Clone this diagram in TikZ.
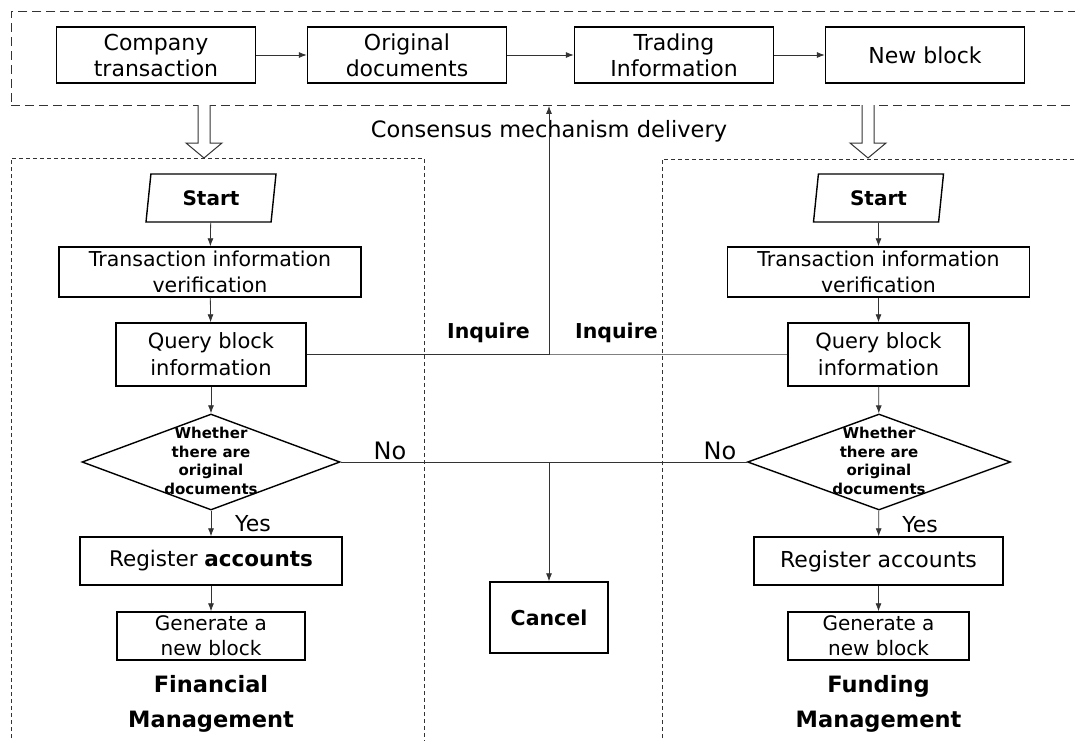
\documentclass[tikz,border=0pt]{standalone}
\usepackage{fontspec}
\setmainfont{DejaVu Sans}
\usetikzlibrary{arrows.meta,shapes.geometric,calc}
\begin{document}
\begin{tikzpicture}[x=1pt,y=-1pt,
  box/.style={draw=black, line width=1.4pt, inner sep=0pt, align=center, font=\fontsize{21}{27}\selectfont},
  topbox/.style={box, minimum width=199pt, minimum height=56pt, font=\fontsize{22}{26}\selectfont},
  ln/.style={draw=black!80, line width=0.8pt},
  lnlight/.style={draw=black!50, line width=0.8pt},
  arr/.style={ln, -{Latex[length=8pt,width=6pt]}},
  lbl/.style={inner sep=0pt, font=\fontsize{21}{26}\selectfont},
  dashbig/.style={draw=black!80, line width=0.9pt, dash pattern=on 9pt off 5pt},
  dashsmall/.style={draw=black!80, line width=0.8pt, dash pattern=on 4pt off 3pt},
  hollow/.style={draw=black!80, line width=1pt, fill=white},
  startbox/.style={trapezium, trapezium left angle=72, trapezium right angle=108, trapezium stretches body, draw=black, line width=1.4pt, inner sep=0pt, minimum width=130pt, minimum height=48pt, font=\bfseries\fontsize{20}{26}\selectfont},
  dia/.style={diamond, draw=black, line width=1.4pt, inner sep=0pt, minimum height=96pt},
  diatext/.style={inner sep=0pt, align=center, font=\bfseries\fontsize{15}{18.7}\selectfont},
  title/.style={inner sep=0pt, align=center, font=\bfseries\fontsize{22.5}{35}\selectfont}]

\useasboundingbox (0,0) rectangle (1075,740);

% top band
\node[dashbig, anchor=north west, minimum width=1074pt, minimum height=94pt, inner sep=0pt] (band) at (11,11) {};
\node[topbox] (c1) at (156,55) {Company\\transaction};
\node[topbox] (c2) at (407,55) {Original\\documents};
\node[topbox] (c3) at (674,55) {Trading\\Information};
\node[topbox] (c4) at (925,55) {New block};
\draw[arr] (c1) -- (c2);
\draw[arr] (c2) -- (c3);
\draw[arr] (c3) -- (c4);

% hollow arrows
\draw[hollow] (198,105) -- (198,143) -- (186,143) -- (204,158) -- (222,143) -- (210,143) -- (210,105);
\draw[hollow] (862,105) -- (862,143) -- (850,143) -- (868,158) -- (886,143) -- (874,143) -- (874,105);

% side frames
\draw[dashsmall] (11,745) -- (11,158) -- (424,158) -- (424,745);
\draw[dashsmall] (662,745) -- (662,159) -- (1085,159);

\node[lbl, font=\fontsize{22.5}{26}\selectfont] (cons) at (549,131) {Consensus mechanism delivery};

% left column
\node[startbox] (s1) at (211,198) {Start};
\node[box, minimum width=302pt, minimum height=50pt, font=\fontsize{20.5}{26}\selectfont] (v1) at (210,272) {Transaction information\\verification};
\node[box, minimum width=190pt, minimum height=63pt] (q1) at (211,354.5) {Query block\\information};
\node[dia, minimum width=258pt] (d1) at (211,462) {};
\node[diatext] (dt1) at (211,461) {Whether\\there are\\original\\documents};
\node[box, minimum width=262pt, minimum height=48pt, font=\fontsize{21.5}{26}\selectfont] (r1) at (211,561) {Register {\bfseries accounts}};
\node[box, minimum width=188pt, minimum height=48pt, font=\fontsize{20}{25}\selectfont] (g1) at (211,636) {Generate a\\new block};
\node[title] (t1) at (211,704) {Financial\\Management};

% right column
\node[startbox] (s2) at (878.5,198) {Start};
\node[box, minimum width=302pt, minimum height=50pt, font=\fontsize{20.5}{26}\selectfont] (v2) at (878.5,272) {Transaction information\\verification};
\node[box, minimum width=181pt, minimum height=63pt] (q2) at (878.5,354.5) {Query block\\information};
\node[dia, minimum width=263pt] (d2) at (879,462) {};
\node[diatext] (dt2) at (879,461) {Whether\\there are\\original\\documents};
\node[box, minimum width=249pt, minimum height=48pt, font=\fontsize{22}{26}\selectfont] (r2) at (878.5,561) {Register accounts};
\node[box, minimum width=181pt, minimum height=48pt, font=\fontsize{20}{25}\selectfont] (g2) at (878.5,636) {Generate a\\new block};
\node[title] (t2) at (878.5,704) {Funding\\Management};

% cancel
\node[box, minimum width=118pt, minimum height=71pt, font=\bfseries\fontsize{20.5}{26}\selectfont] (cx) at (549,617.5) {Cancel};

\coordinate (j1) at (549,354.5);
\coordinate (j2) at (549,462);

\draw[arr] (s1) -- (v1);
\draw[arr] (v1) -- (q1);
\draw[arr] (q1) -- (d1);
\draw[arr] (d1) -- (r1);
\draw[arr] (r1) -- (g1);
\draw[arr] (s2) -- (v2);
\draw[arr] (v2) -- (q2);
\draw[arr] (q2) -- (d2);
\draw[arr] (d2) -- (r2);
\draw[arr] (r2) -- (g2);

\draw[ln] (q1.east) -- (j1);
\draw[lnlight] (q2.west) -- (j1);
\draw[arr] (j1) -- (j1 |- band.south);
\draw[ln] (d1.east) -- (j2);
\draw[ln] (d2.west) -- (j2);
\draw[arr] (j2) -- (cx.north);

\node[lbl, font=\bfseries\fontsize{20.5}{26}\selectfont] (iq1) at (488.5,333) {Inquire};
\node[lbl, font=\bfseries\fontsize{20.5}{26}\selectfont] (iq2) at (616.5,333) {Inquire};
\node[lbl, font=\fontsize{24}{26}\selectfont] (no1) at (390,451) {No};
\node[lbl, font=\fontsize{24}{26}\selectfont] (no2) at (720,451) {No};
\node[lbl, font=\fontsize{22}{26}\selectfont] (y1) at (253,524) {Yes};
\node[lbl, font=\fontsize{22}{26}\selectfont] (y2) at (920,525) {Yes};
\end{tikzpicture}
\end{document}
